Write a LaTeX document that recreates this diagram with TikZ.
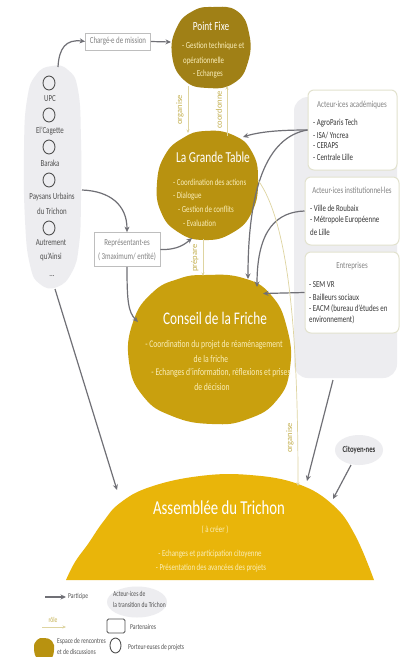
\documentclass[tikz,border=0pt]{standalone}
\usepackage{fontspec}
\setmainfont{Carlito}[FakeStretch=0.75]
\newfontfamily\rolefont{Carlito}
\usetikzlibrary{arrows.meta,shapes.geometric}
\definecolor{pfcol}{RGB}{160,128,22}
\definecolor{gtcol}{RGB}{184,146,16}
\definecolor{cfcol}{RGB}{201,160,14}
\definecolor{atcol}{RGB}{233,181,10}
\definecolor{beigeline}{RGB}{222,212,160}
\definecolor{beigetxt}{RGB}{196,176,80}
\definecolor{arrgray}{RGB}{112,112,118}
\definecolor{panelgray}{RGB}{237,237,240}
\definecolor{boxedge}{RGB}{226,226,206}
\definecolor{rectedge}{RGB}{190,190,190}
\definecolor{onGold}{RGB}{250,238,185}
\definecolor{lbltxt}{RGB}{80,80,80}
\definecolor{softtxt}{RGB}{130,130,130}
\definecolor{itemtxt}{RGB}{55,55,55}
\newcommand{\myfs}[1]{\fontsize{#1}{#1}\selectfont}
\begin{document}
\begin{tikzpicture}[x=1pt,y=-1pt,
  part/.style={draw=arrgray,line width=1.2pt,-{Stealth[length=5.5pt,width=5pt]}},
  rolearrow/.style={draw=beigeline,line width=0.7pt,-{Stealth[length=3.5pt,width=3pt]}},
  rolelab/.style={text=beigetxt,rotate=90,inner sep=0,font=\rolefont\myfs{8.5}},
  ttl/.style={text=white,inner sep=0},
  body/.style={text=onGold,inner sep=0,font=\myfs{9.2}},
  bodyw/.style={body,anchor=west},
  lbl/.style={inner sep=0,text=lbltxt,font=\myfs{9.2}},
  hdr/.style={inner sep=0,text=softtxt,font=\myfs{9.2}},
  item/.style={inner sep=0,text=itemtxt,font=\myfs{9.2},anchor=west},
  porteur/.style={draw=lbltxt,line width=0.9pt,ellipse,minimum width=12pt,minimum height=14pt,inner sep=0},
  partbox/.style={draw=boxedge,line width=1pt,fill=white,rounded corners=6pt,inner sep=0},
  rectbox/.style={draw=rectedge,line width=0.8pt,fill=white,inner sep=0,text=softtxt,font=\myfs{9.2},align=center},
  leg/.style={inner sep=0,font=\myfs{7.5},text=lbltxt,anchor=west}
]
\useasboundingbox (0,0) rectangle (406,657);
\fill[white] (0,0) rectangle (406,657);

% panels
\fill[panelgray] plot[smooth cycle,tension=0.8] coordinates {(52,66) (68,70) (78,90) (81,140) (81,200) (79,245) (72,272) (57,287) (40,284) (30,265) (25,220) (24,150) (27,100) (36,75)};
\fill[panelgray,rounded corners=14pt] (294,97) rectangle (397,378);

% blobs
\fill[pfcol] plot[smooth cycle,tension=0.8] coordinates {(213,7) (237,11) (249,33) (248,62) (234,83) (208,88) (184,80) (172,55) (177,27) (193,11)};
\fill[gtcol] plot[smooth cycle,tension=0.8] coordinates {(205,131) (233,135) (252,152) (258,180) (252,212) (232,233) (204,240) (178,232) (161,212) (157,183) (165,155) (183,138)};
\fill[cfcol] plot[smooth cycle,tension=0.8] coordinates {(205,275) (243,278) (271,295) (287,328) (290,368) (277,400) (248,419) (212,424) (172,416) (143,396) (129,362) (133,322) (152,293) (178,279)};
\fill[atcol] plot[smooth,tension=0.7] coordinates {(66,580) (75,562) (88,544) (103,522) (120,503) (150,487) (200,476) (250,475) (298,484) (333,505) (355,535) (374,580)} -- cycle;

% Point Fixe
\node[ttl,font=\myfs{12.4}] (pft) at (211,26) {Point Fixe};
\node[bodyw] (pf1) at (182,46) {- Gestion technique et};
\node[bodyw] (pf2) at (183,61) {opérationnelle};
\node[bodyw] (pf3) at (193,74) {- Echanges};

% La Grande Table
\node[ttl,font=\myfs{15.2}] (gtt) at (213,157) {La Grande Table};
\node[bodyw] (gt1) at (173,182) {- Coordination des actions};
\node[bodyw] (gt2) at (173,196) {- Dialogue};
\node[bodyw] (gt3) at (178,209) {- Gestion de conflits};
\node[bodyw] (gt4) at (183,223) {- Evaluation};

% Conseil de la Friche
\node[ttl,font=\myfs{17.7}] (cft) at (215,318) {Conseil de la Friche};
\node[body,font=\myfs{10.2}] (cf1) at (214,345) {- Coordination du projet de réaménagement};
\node[body,font=\myfs{10.2}] (cf2) at (211,359) {de la friche};
\node[body,font=\myfs{10.2}] (cf3) at (221,373) {- Echanges d’information, réflexions et prises};
\node[body,font=\myfs{10.2}] (cf4) at (212,387) {de décision};

% Assemblee
\node[ttl,font=\myfs{19.7}] (att) at (219,508) {Assemblée du Trichon};
\node[body] (at0) at (215,530) {( à créer )};
\node[body] (at1) at (210,554) {- Echanges et participation citoyenne};
\node[body] (at2) at (211,568) {- Présentation des avancées des projets};

% left panel
\node[porteur] (c1) at (49,83) {};
\node[lbl] (l1) at (50,99) {UPC};
\node[porteur] (c2) at (49,115) {};
\node[lbl] (l2) at (50,131) {El’Cagette};
\node[porteur] (c3) at (49,147) {};
\node[lbl] (l3) at (50,163) {Baraka};
\node[porteur] (c4) at (49,180) {};
\node[lbl] (l4) at (52,197) {Paysans Urbains};
\node[lbl] (l4b) at (52,211) {du Trichon};
\node[porteur] (c5) at (49,228) {};
\node[lbl] (l5) at (51,243) {Autrement};
\node[lbl] (l5b) at (51,257) {qu’Ainsi};
\node[lbl] (l6) at (52,276) {...};

% boxes
\node[rectbox,minimum width=65pt,minimum height=17pt] (ch) at (118,41.5) {Chargé·e de mission};
\node[rectbox,minimum width=66pt,minimum height=34pt,font=\fontsize{9.2}{14}\selectfont] (rep) at (127,249.5) {Représentant·es\\( 3maximum/ entité)};

% right partner boxes
\node[partbox,minimum width=89pt,minimum height=80pt] (acad) at (352.5,130) {};
\node[hdr] (acadh) at (352,105) {Acteur·ices académiques};
\node[item] (a1) at (313,123) {- AgroParis Tech};
\node[item] (a2) at (313,135) {- ISA/ Yncrea};
\node[item] (a3) at (313,146) {- CERAPS};
\node[item] (a4) at (313,157) {- Centrale Lille};

\node[partbox,minimum width=94pt,minimum height=68pt] (inst) at (352,211) {};
\node[hdr] (insth) at (352,190) {Acteur·ices institutionnel·les};
\node[item] (i1) at (310,208) {- Ville de Roubaix};
\node[item] (i2) at (310,220) {- Métropole Européenne};
\node[item] (i3) at (310,232) {de Lille};

\node[partbox,minimum width=94pt,minimum height=81pt] (entr) at (352,292.5) {};
\node[hdr] (entrh) at (352,266) {Entreprises};
\node[item] (e1) at (309,285) {- SEM VR};
\node[item] (e2) at (309,297) {- Bailleurs sociaux};
\node[item] (e3) at (309,309) {- EACM (bureau d’études en};
\node[item] (e4) at (309,320) {environnement)};

% citoyen
\node[ellipse,fill=panelgray,minimum width=48pt,minimum height=30pt,inner sep=0,text=itemtxt,font=\bfseries\myfs{9}] (cit) at (359,450) {Citoyen·nes};

% coordinates
\coordinate (lptop) at (58,67);
\coordinate (pfw) at (171,42);
\coordinate (pu) at (82,190);
\coordinate (gtsw) at (192,238);
\coordinate (cfw) at (138,322);
\coordinate (lpbot) at (55,289);
\coordinate (atl) at (117,490);
\coordinate (rpbot) at (333,380);
\coordinate (atr) at (307,481);
\coordinate (citS) at (351,465);
\coordinate (atc) at (333,499);
\coordinate (gtne) at (243,137);
\coordinate (cfn1) at (248,279);
\coordinate (cfn2) at (257,287);
\coordinate (cfn3) at (263,293.5);
\coordinate (pfs1) at (188,86);
\coordinate (gtn1) at (188,133);
\coordinate (gtn2) at (227,136);
\coordinate (pfs2) at (227,86);
\coordinate (gts) at (203,239);
\coordinate (cfn) at (203,276);
\coordinate (gte) at (258,180);
\coordinate (atn) at (298,486);

% grey arrows
\draw[part] (lptop) .. controls (59,48) and (66,39) .. (ch.west);
\draw[part] (ch.east) -- (pfw);
\draw[part] (pu) .. controls (110,191) and (127,205) .. (rep.north);
\draw[part] (rep.east) .. controls (178,250) and (185,244) .. (gtsw);
\draw[part] (rep.south) .. controls (127,300) and (128,312) .. (cfw);
\draw[part] (lpbot) -- (atl);
\draw[part] (rpbot) -- (atr);
\draw[part] (citS) -- (atc);
\draw[part] (acad.west) .. controls (285,130) and (262,131) .. (gtne);
\draw[part] (acad.west) .. controls (266,137) and (248,190) .. (cfn1);
\draw[part] (inst.west) .. controls (278,212) and (257,228) .. (cfn2);
\draw[part] (entr.west) -- (cfn3);

% role lines
\draw[rolearrow] (pfs1) -- (gtn1);
\draw[rolearrow] (gtn2) -- (pfs2);
\draw[rolearrow] (gts) -- (cfn);
\draw[rolearrow] (gte) .. controls (290,225) and (298,340) .. (atn);
\node[rolelab] (r1) at (180,110) {organise};
\node[rolelab] (r2) at (219,110) {coordonne};
\node[rolelab] (r3) at (195,258) {prépare};
\node[rolelab] (r4) at (290,438) {organise};

% legend
\coordinate (lgA) at (45,597);
\coordinate (lgB) at (66,597);
\draw[part] (lgA) -- (lgB);
\node[leg] (lgt1) at (68,597) {Participe};
\node[leg,text=beigetxt,anchor=center] (lgt2) at (53,620) {rôle};
\coordinate (lgC) at (42,627);
\coordinate (lgD) at (66,627);
\draw[rolearrow] (lgC) -- (lgD);
\node[ellipse,fill=panelgray,minimum width=60pt,minimum height=31pt,inner sep=0] (legell) at (137,602) {};
\node[leg] (lgt3) at (113,594) {Acteur·ices de};
\node[leg] (lgt4) at (113,605) {la transition du Trichon};
\node[draw=lbltxt,line width=0.8pt,rounded corners=1.5pt,minimum width=18pt,minimum height=14pt,inner sep=0] (legsq) at (116,626) {};
\node[leg] (lgt5) at (130,627) {Partenaires};
\fill[gtcol] plot[smooth cycle,tension=0.8] coordinates {(44,638) (52,641) (54,650) (50,659) (38,659) (34,648) (37,640)};
\node[leg] (lgt6) at (57,641) {Espace de rencontres};
\node[leg] (lgt7) at (57,652) {et de discussions};
\node[porteur,minimum width=11pt,minimum height=15pt] (legc) at (115.5,645.5) {};
\node[leg] (lgt8) at (128,648) {Porteur·euses de projets};
\end{tikzpicture}
\end{document}
